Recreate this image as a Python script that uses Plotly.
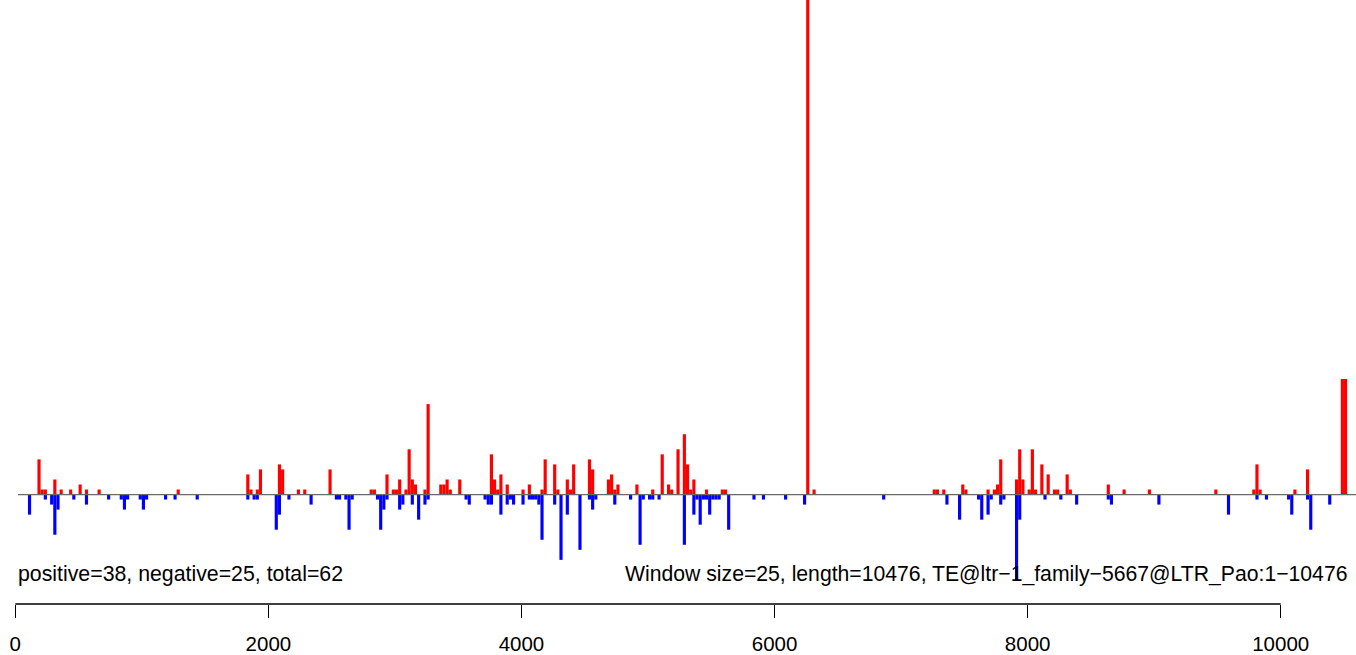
import plotly.graph_objects as go

window_size = 25
seq_length = 10476

# window index (window start = index * window_size) and read counts, + strand
pos_windows = [7, 8, 9, 12, 14, 17, 20, 22, 26, 51,
               73, 74, 76, 77, 83, 84, 89, 91, 99, 112,
               113, 117, 119, 120, 121, 123, 124, 125, 126, 129,
               130, 134, 135, 136, 137, 140, 150, 151, 152, 153,
               155, 160, 162, 166, 167, 170, 171, 174, 175, 176,
               181, 182, 187, 188, 189, 190, 196, 201, 204, 206,
               207, 209, 211, 212, 213, 214, 218, 223, 224, 250,
               252, 290, 291, 293, 299, 300, 307, 309, 310, 311,
               316, 317, 318, 320, 321, 322, 324, 326, 328, 329,
               332, 333, 345, 350, 358, 379, 391, 392, 393, 404,
               408, 419, 420]
pos_counts = [7, 1, 1, 3, 1, 1, 2, 1, 1, 1,
              4, 1, 1, 5, 6, 5, 1, 1, 5, 1,
              1, 4, 1, 1, 3, 1, 9, 3, 2, 1,
              18, 2, 2, 3, 1, 3, 8, 3, 1, 4,
              2, 1, 2, 1, 7, 6, 1, 3, 1, 6,
              7, 5, 3, 4, 1, 2, 2, 1, 8, 2,
              1, 9, 12, 6, 1, 3, 1, 1, 1, 150,
              1, 1, 1, 1, 2, 1, 1, 1, 2, 7,
              3, 9, 3, 1, 9, 1, 6, 4, 1, 1,
              4, 1, 2, 1, 1, 1, 1, 6, 1, 1,
              5, 23, 23]

# - strand
neg_windows = [4, 9, 11, 12, 13, 18, 22, 29, 33, 34,
               35, 39, 40, 41, 47, 50, 57, 73, 75, 76,
               82, 83, 86, 93, 101, 102, 104, 105, 106, 114,
               115, 116, 117, 121, 122, 125, 127, 129, 130, 142,
               143, 148, 149, 150, 153, 155, 156, 157, 160, 162,
               163, 164, 165, 166, 170, 172, 174, 178, 181, 182,
               183, 189, 194, 197, 198, 200, 201, 203, 211, 214,
               215, 216, 217, 218, 219, 220, 221, 222, 225, 233,
               236, 243, 249, 274, 294, 298, 304, 305, 307, 308,
               311, 312, 316, 317, 325, 330, 335, 345, 346, 361,
               383, 392, 395, 402, 403, 408, 409, 415]
neg_counts = [4, 1, 2, 8, 3, 1, 2, 1, 1, 3,
              1, 1, 3, 1, 1, 1, 1, 1, 1, 1,
              7, 4, 1, 2, 1, 1, 1, 7, 1, 1,
              7, 3, 1, 3, 2, 2, 5, 2, 1, 1,
              2, 1, 2, 2, 4, 2, 1, 2, 2, 1,
              1, 1, 2, 9, 2, 13, 4, 11, 1, 3,
              1, 2, 1, 10, 1, 1, 1, 1, 10, 4,
              1, 6, 1, 1, 4, 1, 1, 1, 7, 1,
              1, 1, 2, 1, 2, 5, 1, 5, 4, 1,
              2, 1, 17, 5, 1, 1, 2, 1, 2, 2,
              4, 1, 1, 1, 4, 1, 7, 2]

tick_vals = [0, 2000, 4000, 6000, 8000, 10000]
left_label = "positive=38, negative=25, total=62"
right_label = ("Window size=25, length=10476, "
               "TE@ltr\u22121_family\u22125667@LTR_Pao:1\u221210476")

assert len(pos_windows) == len(pos_counts)
assert len(neg_windows) == len(neg_counts)

FONT = "Liberation Sans, Arial, Helvetica, sans-serif"

W, H = 1356, 655
B = 48
x_px0, x_scale = 15.3, 0.12654       # px of x=0, px per bp
base_px, unit_px = 497.0, 5.05       # baseline px, px per count
plot_h = H - B
x_range = [-x_px0 / x_scale, (W - x_px0) / x_scale]
y_range = [-(plot_h - base_px) / unit_px, base_px / unit_px]

fig = go.Figure()
fig.add_trace(go.Bar(
    x=[w * window_size + window_size / 2 for w in pos_windows],
    y=pos_counts, width=window_size,
    marker=dict(color="#FF0000", line=dict(width=0)),
    hoverinfo="x+y"))
fig.add_trace(go.Bar(
    x=[w * window_size + window_size / 2 for w in neg_windows],
    y=[-c for c in neg_counts], width=window_size,
    marker=dict(color="#0000FF", line=dict(width=0)),
    hoverinfo="x+y"))

# zero line
fig.add_shape(type="line", xref="paper", yref="y",
              x0=18 / W, x1=1, y0=0, y1=0,
              line=dict(color="#6a6a6a", width=1.3), layer="above")
# x axis line from first to last tick
fig.add_shape(type="line", xref="x", yref="paper",
              x0=tick_vals[0], x1=tick_vals[-1], y0=0, y1=0,
              line=dict(color="black", width=1.4), layer="above")

text_y = (base_px - 577) / unit_px
fig.add_annotation(x=16 / W, xref="paper", xanchor="left",
                   y=text_y, yref="y", yanchor="middle",
                   text=left_label, showarrow=False,
                   font=dict(family=FONT, size=21.3, color="black"))
fig.add_annotation(x=1349 / W, xref="paper", xanchor="right",
                   y=text_y, yref="y", yanchor="middle",
                   text=right_label, showarrow=False,
                   font=dict(family=FONT, size=21.2, color="black"))

fig.update_layout(
    width=W, height=H,
    margin=dict(l=0, r=0, t=0, b=B, pad=0),
    paper_bgcolor="white", plot_bgcolor="white",
    barmode="overlay", showlegend=False,
    xaxis=dict(range=x_range, tickvals=tick_vals,
               ticktext=[str(v) for v in tick_vals],
               ticks="outside", ticklen=13, tickwidth=1.4, tickcolor="black",
               ticklabelstandoff=8,
               showgrid=False, zeroline=False, showline=False,
               tickfont=dict(family=FONT, size=20.5, color="black"),
               fixedrange=True),
    yaxis=dict(range=y_range, visible=False, showgrid=False,
               zeroline=False, fixedrange=True),
)

fig.write_html(
    "out.html",
    config={"displayModeBar": False},
    post_script="document.body.style.margin='0';"
                "document.body.style.padding='0';"
                "document.body.style.overflow='hidden';",
)
